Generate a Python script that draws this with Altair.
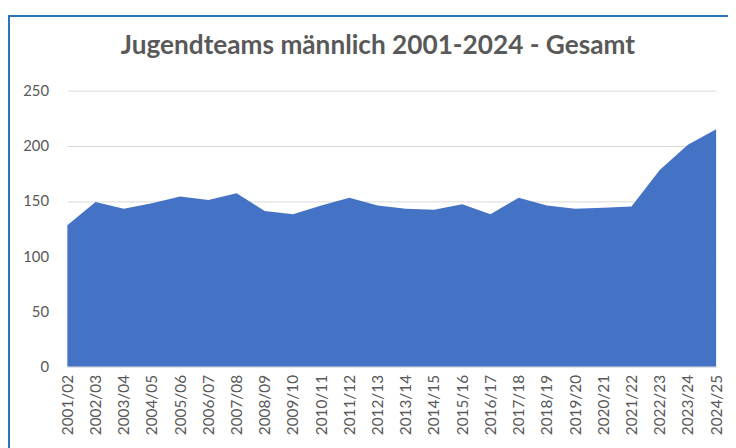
import altair as alt
import pandas as pd

seasons = ["2001/02", "2002/03", "2003/04", "2004/05", "2005/06", "2006/07",
           "2007/08", "2008/09", "2009/10", "2010/11", "2011/12", "2012/13",
           "2013/14", "2014/15", "2015/16", "2016/17", "2017/18", "2018/19",
           "2019/20", "2020/21", "2021/22", "2022/23", "2023/24", "2024/25"]
teams = [128, 149, 143, 148, 154, 151, 157, 141, 138, 146, 153, 146,
         143, 142, 147, 138, 153, 146, 143, 144, 145, 178, 201, 215]
y_ticks = [0, 50, 100, 150, 200, 250]
title_text = "Jugendteams männlich 2001-2024 - Gesamt"

df = pd.DataFrame({"Saison": seasons, "Teams": teams})

FONT = "Lato"
TXT = "#595959"

area = alt.Chart(df).mark_area(color="#4472C4", opacity=1).encode(
    x=alt.X("Saison:N", sort=None, scale=alt.Scale(padding=0),
            axis=alt.Axis(title=None, labelAngle=-90, labelPadding=8,
                          ticks=False, domain=True, domainColor="#D9D9D9",
                          labelFont=FONT, labelFontSize=15.5, labelColor=TXT,
                          labelBaseline="middle", labelAlign="right")),
    y=alt.Y("Teams:Q", scale=alt.Scale(domain=[0, 250], nice=False),
            axis=alt.Axis(title=None, values=y_ticks, ticks=False, domain=False,
                          gridColor="#D9D9D9", gridWidth=1, labelPadding=19,
                          labelFont=FONT, labelFontSize=15, labelColor=TXT)),
)

border = alt.Chart(df).mark_rect(fill=None, stroke="#2E75B6", strokeWidth=2).encode(
    x=alt.value(-59), x2=alt.value(700), y=alt.value(-75.5), y2=alt.value(420)
)

chart = alt.layer(area, border).properties(
    width=656, height=279,
    autosize=alt.AutoSizeParams(type="none"),
    padding={"left": 60, "top": 81, "right": 12, "bottom": 100},
    title=alt.TitleParams(title_text, font=FONT, fontSize=26.5, fontWeight="bold",
                          color=TXT, anchor="middle", dx=-14, offset=-66,
                          baseline="alphabetic"),
).configure_view(stroke=None)

chart.save("out.html", embed_options={"renderer": "svg", "actions": False})
